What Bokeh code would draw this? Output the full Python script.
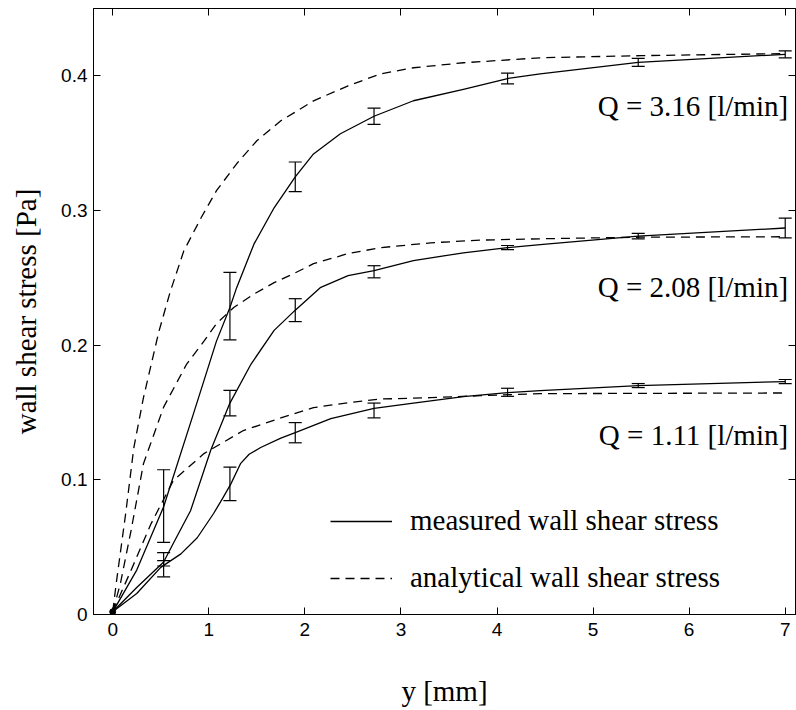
from bokeh.plotting import figure
from bokeh.models import (LinearAxis, Whisker, TeeHead, ColumnDataSource, Legend,
                          LegendItem, Label, Range1d, FixedTicker)
from bokeh.embed import file_html
from bokeh.resources import INLINE

# ---------------- data ----------------
# error-bar stations (mm)
x_err = [0.53, 1.22, 1.90, 2.72, 4.11, 5.47, 7.00]

q316_mean = [0.0805, 0.229, 0.325, 0.370, 0.398, 0.410, 0.416]
q316_err = [0.027, 0.025, 0.011, 0.006, 0.004, 0.003, 0.0026]
q208_mean = [0.041, 0.157, 0.226, 0.2545, 0.2725, 0.281, 0.287]
q208_err = [0.005, 0.0095, 0.0085, 0.0045, 0.0015, 0.002, 0.0074]
q111_mean = [0.034, 0.097, 0.135, 0.1515, 0.165, 0.170, 0.173]
q111_err = [0.006, 0.0125, 0.0075, 0.0055, 0.003, 0.0015, 0.0015]

# measured curves
q316_meas_x = [0.0, 0.25, 0.53, 0.84, 1.08, 1.22, 1.29, 1.47, 1.68, 1.90, 2.09, 2.37,
               2.72, 3.13, 3.65, 4.11, 4.45, 5.47, 7.0]
q316_meas_y = [0.002, 0.033, 0.080, 0.149, 0.203, 0.228, 0.2427, 0.275, 0.302, 0.325,
               0.342, 0.357, 0.370, 0.3815, 0.390, 0.398, 0.4015, 0.410, 0.416]
q208_meas_x = [0.0, 0.25, 0.53, 0.63, 0.81, 1.02, 1.22, 1.44, 1.68, 1.90, 2.16, 2.45,
               2.72, 3.13, 3.65, 4.11, 4.45, 5.47, 7.0]
q208_meas_y = [0.002, 0.020, 0.039, 0.0527, 0.077, 0.122, 0.157, 0.186, 0.211, 0.226,
               0.2427, 0.2516, 0.2553, 0.2627, 0.2686, 0.2724, 0.2746, 0.281, 0.287]
q111_meas_x = [0.0, 0.25, 0.50, 0.71, 0.88, 1.05, 1.15, 1.23, 1.33, 1.42, 1.54, 1.75,
               1.90, 2.27, 2.72, 3.13, 3.65, 4.11, 4.45, 5.47, 7.0]
q111_meas_y = [0.002, 0.0156, 0.035, 0.045, 0.057, 0.075, 0.087, 0.097, 0.112, 0.119,
               0.124, 0.131, 0.135, 0.1455, 0.153, 0.157, 0.1618, 0.1648, 0.1662,
               0.170, 0.173]

# analytical curves
q316_an_x = [0.0, 0.04, 0.135, 0.22, 0.32, 0.48, 0.60, 0.74, 0.92, 1.08, 1.29, 1.50,
             1.75, 2.09, 2.45, 2.79, 3.13, 3.65, 4.45, 5.5, 7.0]
q316_an_y = [0.002, 0.025, 0.075, 0.124, 0.161, 0.210, 0.240, 0.270, 0.2946, 0.3147,
             0.3347, 0.3518, 0.3666, 0.3814, 0.3926, 0.4015, 0.406, 0.4097, 0.4134,
             0.415, 0.4165]
q208_an_x = [0.0, 0.08, 0.19, 0.32, 0.53, 0.77, 0.95, 1.08, 1.26, 1.47, 1.68, 1.88,
             2.09, 2.45, 2.79, 3.31, 3.83, 4.45, 5.5, 7.0]
q208_an_y = [0.002, 0.023, 0.062, 0.112, 0.154, 0.186, 0.203, 0.216, 0.228, 0.238,
             0.2464, 0.253, 0.2605, 0.268, 0.2724, 0.276, 0.278, 0.279, 0.2802, 0.2805]
q111_an_x = [0.0, 0.19, 0.40, 0.63, 0.95, 1.36, 1.75, 2.09, 2.45, 2.79, 3.31, 3.83,
             4.45, 7.0]
q111_an_y = [0.002, 0.0327, 0.0675, 0.0994, 0.1195, 0.1366, 0.146, 0.1536, 0.1573,
             0.160, 0.161, 0.1625, 0.164, 0.1645]

x_ticks = [0, 1, 2, 3, 4, 5, 6, 7]
y_ticks = [0.0, 0.1, 0.2, 0.3, 0.4]
y_tick_labels = ["0", "0.1", "0.2", "0.3", "0.4"]

flow_labels = ["Q = 3.16 [l/min]", "Q = 2.08 [l/min]", "Q = 1.11 [l/min]"]
flow_label_y = [0.3775, 0.2430, 0.1330]   # annotation anchor heights
flow_label_x = 7.03

SERIF = "Liberation Serif"
SANS = "Liberation Sans"

p = figure(frame_width=702, frame_height=606,
           min_border_left=93, min_border_right=1, min_border_top=8, min_border_bottom=95,
           x_range=Range1d(-0.2, 7.107), y_range=Range1d(0, 0.45),
           output_backend="svg", toolbar_location=None)

p.xgrid.visible = False
p.ygrid.visible = False
p.outline_line_color = "black"
p.outline_line_width = 1
p.background_fill_color = "white"
p.border_fill_color = "white"


def style_axis(ax, ticks, labels=True):
    ax.ticker = FixedTicker(ticks=ticks)
    ax.major_tick_in = 7
    ax.major_tick_out = 0
    ax.minor_tick_line_color = None
    ax.axis_line_color = "black"
    ax.major_tick_line_color = "black"
    ax.major_tick_line_width = 1
    if labels:
        ax.major_label_text_font = SANS
        ax.major_label_text_font_size = "19px"
        ax.major_label_text_color = "black"
    else:
        ax.major_label_text_color = None
        ax.major_label_text_font_size = "1px"
        ax.major_label_standoff = 0


xa = p.xaxis[0]
style_axis(xa, x_ticks)
xa.major_label_standoff = 8
xa.axis_label = "y [mm]"
xa.axis_label_text_font = SERIF
xa.axis_label_text_font_style = "normal"
xa.axis_label_text_font_size = "29px"
xa.axis_label_text_color = "black"
xa.axis_label_standoff = 36

ya = p.yaxis[0]
style_axis(ya, y_ticks)
ya.major_label_overrides = {t: s for t, s in zip(y_ticks, y_tick_labels)}
ya.major_label_standoff = 6
ya.axis_label = "wall shear stress [Pa]"
ya.axis_label_text_font = SERIF
ya.axis_label_text_font_style = "normal"
ya.axis_label_text_font_size = "29px"
ya.axis_label_text_color = "black"
ya.axis_label_standoff = 16

top = LinearAxis()
style_axis(top, x_ticks, labels=False)
p.add_layout(top, "above")
right = LinearAxis()
style_axis(right, y_ticks, labels=False)
p.add_layout(right, "right")

# analytical (dashed)
dash = "9 6"
an_renderers = []
for xs, ys in [(q316_an_x, q316_an_y), (q208_an_x, q208_an_y), (q111_an_x, q111_an_y)]:
    r = p.line(xs, ys, line_color="black", line_width=1.3, line_dash=dash)
    an_renderers.append(r)

# measured (solid)
meas_renderers = []
for xs, ys in [(q316_meas_x, q316_meas_y), (q208_meas_x, q208_meas_y),
               (q111_meas_x, q111_meas_y)]:
    r = p.line(xs, ys, line_color="black", line_width=1.3, line_join="round")
    meas_renderers.append(r)

# converging start point
p.scatter([q316_meas_x[0]], [q316_meas_y[0]], size=6, color="black")

# error bars
for means, errs in [(q316_mean, q316_err), (q208_mean, q208_err), (q111_mean, q111_err)]:
    src = ColumnDataSource(dict(
        x=x_err,
        upper=[m + e for m, e in zip(means, errs)],
        lower=[m - e for m, e in zip(means, errs)],
    ))
    w = Whisker(source=src, base="x", upper="upper", lower="lower",
                line_color="black", line_width=1.2,
                upper_head=TeeHead(size=13, line_color="black", line_width=1.2),
                lower_head=TeeHead(size=13, line_color="black", line_width=1.2))
    p.add_layout(w)

for txt, yy in zip(flow_labels, flow_label_y):
    p.add_layout(Label(x=flow_label_x, y=yy, text=txt, text_align="right",
                       text_baseline="middle", text_font=SERIF,
                       text_font_size="29px", text_color="black"))

legend = Legend(items=[LegendItem(label="measured wall shear stress", renderers=[meas_renderers[0]]),
                       LegendItem(label="analytical wall shear stress", renderers=[an_renderers[0]])],
                location=(237, 20), orientation="vertical",
                border_line_alpha=0, background_fill_alpha=0,
                padding=0, margin=0, spacing=24,
                glyph_width=62, glyph_height=20, label_standoff=18,
                label_text_font=SERIF, label_text_font_size="29px",
                label_text_color="black")
p.add_layout(legend)

open("out.html", "w").write(file_html(p, INLINE))
